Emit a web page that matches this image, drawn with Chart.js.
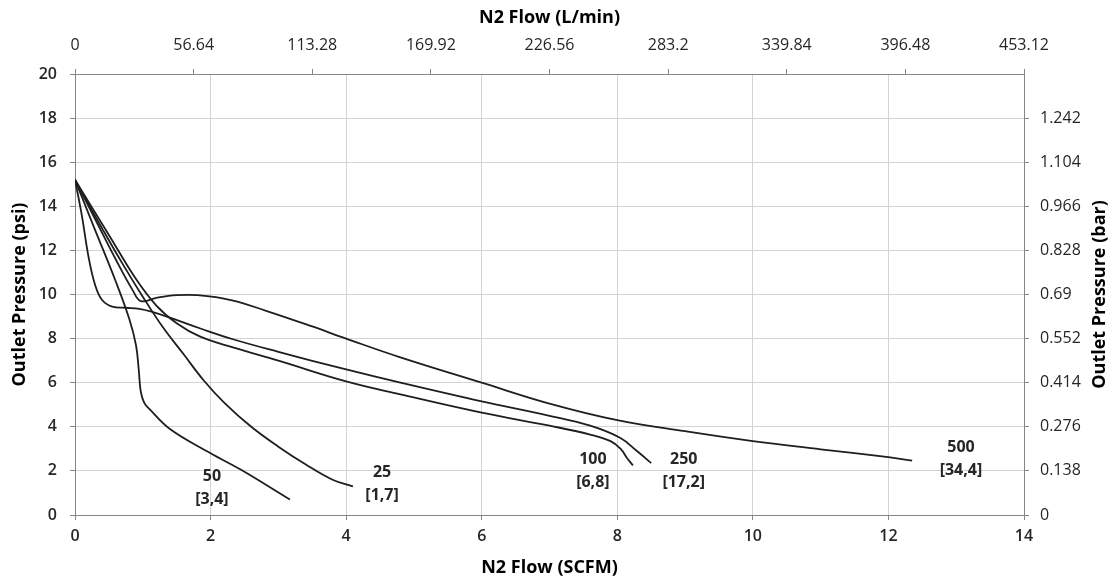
<!DOCTYPE html>
<html>
<head>
<meta charset="utf-8">
<script src="https://cdn.jsdelivr.net/npm/chart.js@4/dist/chart.umd.min.js"></script>
<style>
  html, body { margin: 0; padding: 0; background: #fff; }
</style>
</head>
<body>
<canvas id="chart" width="1117" height="580"></canvas>
<script>
// Regulator flow curves: outlet pressure vs N2 flow, one curve per inlet pressure

const SCFM_MAX = 14;
const PSI_MAX = 20;
const LPM_TICKS = [0, 56.64, 113.28, 169.92, 226.56, 283.2, 339.84, 396.48, 453.12];
const BAR_TICKS = [0, 0.138, 0.276, 0.414, 0.552, 0.69, 0.828, 0.966, 1.104, 1.242];
const BAR_MAX = 1.38;

// inlet 25 psi [1,7 bar]
const flow25 = [0, 0.4, 0.7, 1.0, 1.3, 1.6, 1.9, 2.2, 2.6, 3.0, 3.4, 3.8, 4.1];
const psi25  = [15.2, 13.0, 11.4, 9.9, 8.5, 7.3, 6.1, 5.1, 4.0, 3.1, 2.3, 1.6, 1.3];

// inlet 50 psi [3,4 bar]
const flow50 = [0, 0.3, 0.6, 0.8, 0.9, 0.94, 0.97, 1.02, 1.1, 1.4, 2.0, 2.45, 3.17];
const psi50  = [15.2, 12.9, 10.6, 8.9, 7.7, 6.6, 5.6, 5.1, 4.8, 3.9, 2.8, 2.05, 0.7];

// inlet 100 psi [6,8 bar]
const flow100 = [0, 0.5, 0.9, 1.2, 1.5, 1.84, 2.33, 3.0, 4.0, 4.8, 6.0, 7.0, 7.6, 7.9, 8.05, 8.14, 8.23];
const psi100  = [15.2, 12.7, 10.7, 9.5, 8.7, 8.1, 7.6, 7.0, 6.06, 5.47, 4.64, 4.05, 3.65, 3.35, 3.0, 2.6, 2.25];

// inlet 250 psi [17,2 bar]
const flow250 = [0, 0.1, 0.2, 0.3, 0.4, 0.55, 0.75, 0.95, 1.15, 1.4, 1.84, 2.33, 3.0, 4.0, 4.8, 6.0, 7.0, 7.6, 8.04, 8.29, 8.5];
const psi250  = [15.2, 13.6, 11.7, 10.4, 9.75, 9.45, 9.4, 9.35, 9.2, 8.95, 8.47, 7.97, 7.4, 6.6, 6.0, 5.15, 4.5, 4.05, 3.5, 2.9, 2.35];

// inlet 500 psi [34,4 bar]
const flow500 = [0, 0.3, 0.6, 0.85, 0.97, 1.2, 1.5, 1.8, 2.3, 2.83, 3.5, 4.0, 4.8, 6.0, 7.0, 8.0, 9.0, 10.0, 11.0, 12.0, 12.35];
const psi500  = [15.2, 13.4, 11.6, 10.2, 9.7, 9.85, 9.97, 9.97, 9.75, 9.25, 8.55, 8.0, 7.15, 6.0, 5.05, 4.3, 3.8, 3.35, 2.98, 2.62, 2.47];

// curve labels (text lines) and where they sit, in SCFM / psi
const LABEL_TEXT = [['50', '[3,4]'], ['25', '[1,7]'], ['100', '[6,8]'], ['250', '[17,2]'], ['500', '[34,4]']];
const LABEL_FLOW = [2.02, 4.53, 7.64, 8.98, 13.07];
const LABEL_PSI  = [1.25, 1.45, 2.0, 2.0, 2.55];

const FONT = "'Open Sans', sans-serif";
const TEXT_COLOR = '#262626';
const AXIS_COLOR = '#868686';
const GRID_COLOR = '#d4d4d4';
const LINE_COLOR = '#1e1e1e';

function pts(xs, ys) {
  return xs.map((x, i) => ({ x, y: ys[i] }));
}

function curve(xs, ys) {
  return {
    data: pts(xs, ys),
    borderColor: LINE_COLOR,
    borderWidth: 1.8,
    pointRadius: 0,
    fill: false,
    tension: 0.4
  };
}

// curve name labels + the right-hand axis title (reads bottom to top, like the left one)
const annotations = {
  id: 'annotations',
  afterDraw(chart) {
    const { ctx, scales: { x, y } } = chart;
    ctx.save();
    ctx.fillStyle = TEXT_COLOR;
    ctx.font = "bold 16px " + FONT;
    ctx.textAlign = 'center';
    ctx.textBaseline = 'middle';
    LABEL_TEXT.forEach((lines, i) => {
      const px = x.getPixelForValue(LABEL_FLOW[i]);
      const py = y.getPixelForValue(LABEL_PSI[i]);
      ctx.fillText(lines[0], px, py - 11);
      ctx.fillText(lines[1], px, py + 12);
    });
    ctx.translate(chart.width - 17, (chart.chartArea.top + chart.chartArea.bottom) / 2);
    ctx.rotate(-Math.PI / 2);
    ctx.fillStyle = '#000';
    ctx.font = "bold 18px " + FONT;
    ctx.fillText('Outlet Pressure (bar)', 0, 0);
    ctx.restore();
  }
};

const tickFont = (w) => ({ family: FONT, size: 16, weight: w });
const titleFont = { family: FONT, size: 18, weight: 'bold' };

new Chart(document.getElementById('chart'), {
  type: 'line',
  data: {
    datasets: [
      curve(flow25, psi25),
      curve(flow50, psi50),
      curve(flow100, psi100),
      curve(flow250, psi250),
      curve(flow500, psi500)
    ]
  },
  options: {
    responsive: false,
    animation: false,
    layout: { padding: 0 },
    plugins: { legend: { display: false }, tooltip: { enabled: false } },
    scales: {
      x: {
        type: 'linear', position: 'bottom', min: 0, max: SCFM_MAX,
        ticks: { stepSize: 2, color: TEXT_COLOR, font: tickFont('600'), padding: 7 },
        grid: { color: GRID_COLOR, tickColor: AXIS_COLOR, tickLength: 5 },
        border: { color: AXIS_COLOR },
        title: { display: true, text: 'N2 Flow (SCFM)', color: '#000', font: titleFont, padding: { top: 0, bottom: 1 } },
        afterFit(s) { s.height = 65; }
      },
      x2: {
        type: 'linear', position: 'top', min: 0, max: LPM_TICKS[LPM_TICKS.length - 1],
        afterBuildTicks(s) { s.ticks = LPM_TICKS.map(v => ({ value: v })); },
        ticks: { color: TEXT_COLOR, font: tickFont('normal'), padding: 14, callback: v => String(v) },
        grid: { drawOnChartArea: false, tickColor: AXIS_COLOR, tickLength: 5 },
        border: { color: AXIS_COLOR },
        title: { display: true, text: 'N2 Flow (L/min)', color: '#000', font: titleFont, padding: { top: 7, bottom: 0 } },
        afterFit(s) { s.height = 74; }
      },
      y: {
        type: 'linear', position: 'left', min: 0, max: PSI_MAX,
        ticks: { stepSize: 2, color: TEXT_COLOR, font: tickFont('600'), padding: 13 },
        grid: { color: GRID_COLOR, tickColor: AXIS_COLOR, tickLength: 5 },
        border: { color: AXIS_COLOR },
        title: { display: true, text: 'Outlet Pressure (psi)', color: '#000', font: titleFont, padding: { top: 9, bottom: 0 } },
        afterFit(s) { s.width = 75; }
      },
      y2: {
        type: 'linear', position: 'right', min: 0, max: BAR_MAX,
        afterBuildTicks(s) { s.ticks = BAR_TICKS.map(v => ({ value: v })); },
        ticks: { color: TEXT_COLOR, font: tickFont('normal'), padding: 11, callback: v => String(v) },
        grid: { drawOnChartArea: false, tickColor: AXIS_COLOR, tickLength: 5 },
        border: { color: AXIS_COLOR },
        afterFit(s) { s.width = 93; }
      }
    }
  },
  plugins: [annotations]
});
</script>
</body>
</html>
